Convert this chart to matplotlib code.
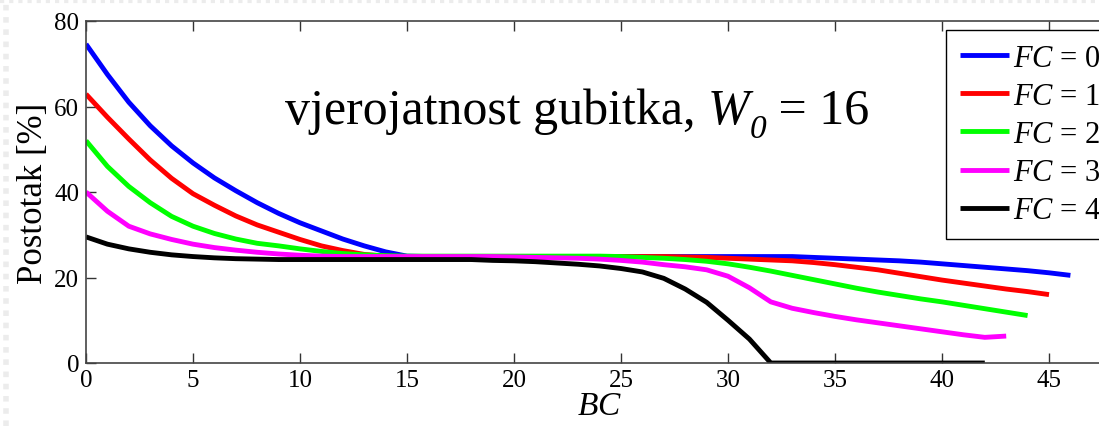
import matplotlib
matplotlib.use("Agg")
import matplotlib.pyplot as plt
from matplotlib.lines import Line2D

plt.rcParams['font.family'] = ['Liberation Serif', 'DejaVu Serif']
plt.rcParams['mathtext.fontset'] = 'custom'
plt.rcParams['mathtext.rm'] = 'Liberation Serif'
plt.rcParams['mathtext.it'] = 'Liberation Serif:italic'
plt.rcParams['mathtext.bf'] = 'Liberation Serif:bold'

bc_fc0 = list(range(0, 47))
fc0 = [74.6, 67.5, 61.0, 55.5, 50.8, 46.8, 43.3, 40.3, 37.5, 35.0, 32.8, 30.9, 29.0, 27.4, 26.0, 25.0,
       24.9, 24.9, 24.9, 24.9, 24.9, 24.9, 24.9, 24.9, 24.9, 24.9, 24.9, 24.9, 24.9, 24.9, 24.9, 24.9,
       24.9, 24.9, 24.7, 24.5, 24.3, 24.1, 23.9, 23.6, 23.2, 22.8, 22.4, 22.0, 21.6, 21.1, 20.5]

bc_fc1 = list(range(0, 46))
fc1 = [62.9, 57.5, 52.4, 47.5, 43.2, 39.6, 36.9, 34.4, 32.3, 30.6, 28.9, 27.4, 26.3, 25.4, 25.0,
       24.9, 24.9, 24.9, 24.9, 24.9, 24.9, 24.9, 24.9, 24.9, 24.9, 24.9, 24.9, 24.9, 24.8, 24.7,
       24.5, 24.3, 24.1, 23.9, 23.5, 23.0, 22.4, 21.8, 21.0, 20.2, 19.4, 18.7, 18.0, 17.3, 16.7, 16.0]

bc_fc2 = list(range(0, 45))
fc2 = [52.0, 46.0, 41.3, 37.5, 34.3, 32.0, 30.3, 29.0, 28.0, 27.4, 26.7, 26.1, 25.6, 25.3, 25.1,
       25.0, 25.0, 25.0, 25.0, 25.0, 25.0, 25.0, 25.0, 25.0, 25.0, 24.9, 24.7, 24.5, 24.2, 23.8,
       23.2, 22.4, 21.5, 20.5, 19.5, 18.5, 17.5, 16.6, 15.8, 15.0, 14.3, 13.5, 12.7, 11.9, 11.1]

bc_fc3 = list(range(0, 44))
fc3 = [40.0, 35.5, 32.0, 30.2, 28.9, 27.8, 27.0, 26.4, 25.9, 25.5, 25.2, 25.0, 24.9, 24.9, 24.9,
       24.9, 24.9, 24.9, 24.9, 24.9, 24.8, 24.7, 24.6, 24.5, 24.3, 24.0, 23.6, 23.0, 22.5, 21.8,
       20.3, 17.6, 14.3, 12.8, 11.8, 10.9, 10.1, 9.4, 8.7, 8.0, 7.3, 6.6, 6.0, 6.3]

bc_fc4 = list(range(0, 43))
fc4 = [29.5, 27.8, 26.7, 25.9, 25.3, 24.9, 24.6, 24.4, 24.3, 24.2, 24.2, 24.2, 24.2, 24.2, 24.2,
       24.2, 24.2, 24.2, 24.2, 24.0, 23.9, 23.7, 23.4, 23.1, 22.7, 22.1, 21.3, 19.8, 17.3, 14.2,
       10.0, 5.6, 0.0, 0.0, 0.0, 0.0, 0.0, 0.0, 0.0, 0.0, 0.0, 0.0, 0.0]

labels = [r'$FC$ = 0', r'$FC$ = 1', r'$FC$ = 2', r'$FC$ = 3', r'$FC$ = 4']
colors = ['#0000ff', '#ff0000', '#00ff00', '#ff00ff', '#000000']
xticks = [0, 5, 10, 15, 20, 25, 30, 35, 40, 45]
yticks = [0, 20, 40, 60, 80]

W, H = 1099, 427
fig = plt.figure(figsize=(W / 100, H / 100), dpi=100)

# faint slide decoration along left and top edges
fig.add_artist(Line2D([6 / W, 6 / W], [0, 1], transform=fig.transFigure, color='#ececec',
                      lw=4, ls=(0, (1, 1.2))))
fig.add_artist(Line2D([0, 1], [1 - 1.5 / H, 1 - 1.5 / H], transform=fig.transFigure, color='#ececec',
                      lw=3, ls=(0, (1, 1.2))))

ax_left = 86 / W
ax_bottom = (H - 364) / H
ax_height = (364 - 22) / H
xmax = 48
ax_width = (xmax * 21.4) / W
ax = fig.add_axes([ax_left, ax_bottom, ax_width, ax_height])

series = [(bc_fc0, fc0), (bc_fc1, fc1), (bc_fc2, fc2), (bc_fc3, fc3), (bc_fc4, fc4)]
for (xs, ys), c, lab in zip(series, colors, labels):
    ax.plot(xs, ys, color=c, lw=3.5, label=lab, solid_capstyle='butt')

ax.set_xlim(0, xmax)
ax.set_ylim(0, 80)
ax.set_xticks(xticks)
ax.set_yticks(yticks)
ax.tick_params(direction='in', length=7, width=1, colors='#333333', top=True, right=True,
               labelsize=18, labelcolor='black')
ax.tick_params(axis='x', pad=4)
ax.tick_params(axis='y', pad=5)
for s in ax.spines.values():
    s.set_color('#444444')
    s.set_linewidth(1.2)

ax.set_xlabel(r'$BC$', fontsize=24, labelpad=0)
ax.set_ylabel('Postotak [%]', fontsize=25, labelpad=3)

leg = ax.legend(loc='upper left', bbox_to_anchor=(946 / W, 1 - 31 / H),
                bbox_transform=fig.transFigure, borderaxespad=0, fontsize=22,
                handlelength=1.6, handletextpad=0.15, labelspacing=0.3, borderpad=0.45,
                fancybox=False, framealpha=1, edgecolor='black')
leg.get_frame().set_linewidth(1.0)

# Title-like annotation built from pieces so the subscript can be italic
title_fs = 36
t1 = fig.text(0.25, 1 - 124 / H, 'vjerojatnost gubitka, ', fontsize=title_fs,
              ha='left', va='baseline')
t2 = fig.text(0, 0, 'W', fontsize=title_fs, style='italic', ha='left', va='bottom')
t2.set_transform(matplotlib.transforms.IdentityTransform())
fig.canvas.draw()
r = fig.canvas.get_renderer()


def place_after(prev, txt, dy, fs, style):
    return fig.text(0, 0, txt, fontsize=fs, style=style, ha='left', va='bottom')


t2.remove()
t2 = plt.annotate('W', xy=(1, 0), xycoords=t1, xytext=(0, 0), textcoords='offset points',
                  fontsize=title_fs, style='italic', ha='left', va='bottom',
                  annotation_clip=False)
t3 = plt.annotate('0', xy=(1, 0), xycoords=t2, xytext=(0, -7), textcoords='offset points',
                  fontsize=24, style='italic', ha='left', va='bottom', annotation_clip=False)
t4 = plt.annotate(' = 16', xy=(1, 0), xycoords=t3, xytext=(0, 7), textcoords='offset points',
                  fontsize=title_fs, ha='left', va='bottom', annotation_clip=False)
fig.canvas.draw()
x_start = t1.get_window_extent(r).x0
x_end = t4.get_window_extent(r).x1
center_target = 577
shift = center_target - (x_start + x_end) / 2
t1.set_x(0.25 + shift / W)

fig.savefig('out.png', dpi=100)
